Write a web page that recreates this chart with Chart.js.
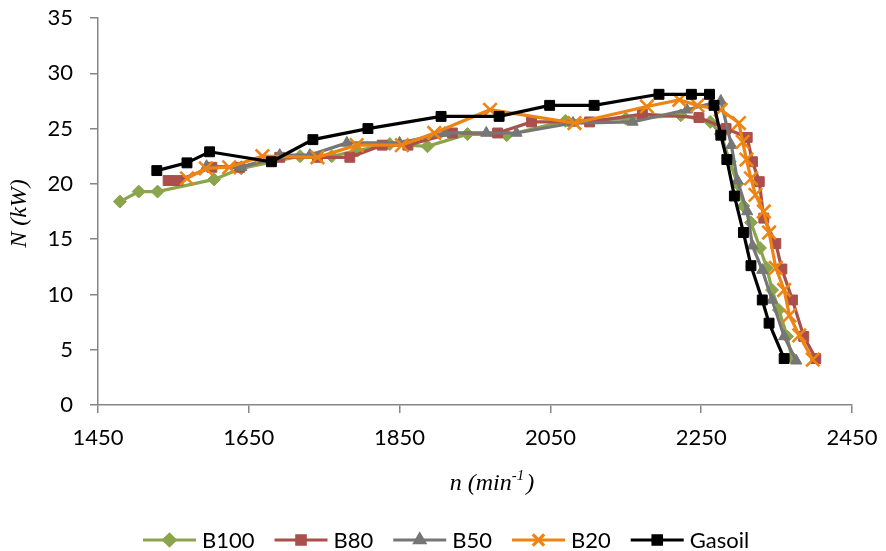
<!DOCTYPE html>
<html>
<head>
<meta charset="utf-8">
<script src="https://cdn.jsdelivr.net/npm/chart.js@4/dist/chart.umd.min.js"></script>
<style>
  html, body { margin: 0; padding: 0; background: #ffffff; }
  #wrap { width: 886px; height: 551px; }
</style>
</head>
<body>
<div id="wrap"><canvas id="c" width="886" height="551"></canvas></div>
<script>
// Axis ticks
const xTicks = [1450, 1650, 1850, 2050, 2250, 2450];
const yTicks = [0, 5, 10, 15, 20, 25, 30, 35];

// Series names
const seriesNames = ['B100', 'B80', 'B50', 'B20', 'Gasoil'];

// Engine speed n (min-1) and power N (kW) per fuel
const b100Rpm   = [1479, 1504, 1529, 1604, 1640, 1718, 1760, 1794, 1837, 1887, 1940, 1992, 2070, 2150, 2223, 2262, 2276, 2288, 2298, 2306, 2316, 2328, 2337, 2344, 2353, 2364, 2370];
const b100Power = [18.4, 19.3, 19.3, 20.4, 21.4, 22.5, 22.5, 23.0, 23.6, 23.4, 24.5, 24.4, 25.7, 25.9, 26.2, 25.6, 24.5, 22.0, 20.0, 18.0, 16.5, 14.2, 12.4, 10.4, 8.6, 6.2, 4.3];

const b80Rpm   = [1543, 1556, 1601, 1638, 1691, 1741, 1784, 1827, 1861, 1920, 1980, 2025, 2102, 2172, 2247, 2283, 2311, 2318, 2327, 2333, 2349, 2357, 2371, 2386, 2402];
const b80Power = [20.3, 20.3, 21.5, 21.5, 22.4, 22.4, 22.4, 23.5, 23.5, 24.6, 24.6, 25.6, 25.6, 26.3, 26.0, 25.0, 24.2, 22.0, 20.2, 16.9, 14.6, 12.3, 9.5, 6.2, 4.2];

const b50Rpm   = [1594, 1640, 1691, 1731, 1780, 1850, 1910, 1965, 2005, 2080, 2159, 2231, 2276, 2290, 2298, 2311, 2318, 2331, 2344, 2360, 2376];
const b50Power = [21.6, 21.5, 22.6, 22.6, 23.7, 23.7, 24.6, 24.6, 24.6, 25.5, 25.6, 26.7, 27.5, 23.5, 20.3, 17.5, 14.4, 12.2, 9.5, 6.2, 4.0];

const b20Rpm   = [1568, 1593, 1624, 1668, 1741, 1793, 1853, 1896, 1970, 2082, 2178, 2221, 2245, 2276, 2300, 2305, 2310, 2316, 2322, 2333, 2340, 2349, 2360, 2367, 2380, 2398];
const b20Power = [20.5, 21.4, 21.5, 22.5, 22.4, 23.5, 23.5, 24.6, 26.7, 25.5, 27.0, 27.6, 27.1, 26.7, 25.5, 23.8, 22.2, 20.5, 19.0, 17.5, 15.6, 12.4, 10.4, 8.1, 6.3, 4.1];

const gasoilRpm   = [1528, 1568, 1598, 1680, 1735, 1808, 1905, 1982, 2049, 2108, 2194, 2237, 2261, 2267, 2276, 2284, 2294, 2306, 2316, 2331, 2340, 2360];
const gasoilPower = [21.2, 21.9, 22.9, 22.0, 24.0, 25.0, 26.1, 26.1, 27.1, 27.1, 28.1, 28.1, 28.1, 27.1, 24.4, 22.2, 18.9, 15.6, 12.6, 9.5, 7.4, 4.2];

const AXIS_GRAY = '#868686';
const TICK_FONT = { family: 'Lato', size: 22 };
const TITLE_FONT = 'italic 24px "Liberation Serif"';

function pairs(xs, ys) {
  return xs.map((x, i) => ({ x: x, y: ys[i] }));
}

function series(label, xs, ys, color, style, radius, order, borderW) {
  return {
    label: label,
    data: pairs(xs, ys),
    showLine: true,
    borderColor: color,
    backgroundColor: color,
    borderWidth: 3.2,
    pointStyle: style,
    pointRadius: radius,
    pointHoverRadius: radius,
    pointBorderWidth: borderW,
    pointBorderColor: color,
    pointBackgroundColor: color,
    tension: 0,
    order: order
  };
}

const datasets = [
  series(seriesNames[0], b100Rpm, b100Power, '#8AA54B', 'rectRot', 6.5, 4, 1),
  series(seriesNames[1], b80Rpm, b80Power, '#AA4F4C', 'rect', 7, 3, 1),
  series(seriesNames[2], b50Rpm, b50Power, '#767676', 'triangle', 6.5, 2, 1),
  series(seriesNames[3], b20Rpm, b20Power, '#EE8412', 'crossRot', 9.5, 1, 2.6),
  series(seriesNames[4], gasoilRpm, gasoilPower, '#000000', 'rect', 7, 0, 1)
];

// Axis titles and line-with-marker legend drawn on the canvas
const decorations = {
  id: 'decorations',
  afterDraw(chart) {
    const ctx = chart.ctx;
    const area = chart.chartArea;
    ctx.save();

    // y-axis title, rotated
    ctx.fillStyle = '#000';
    ctx.font = TITLE_FONT;
    ctx.textAlign = 'center';
    ctx.textBaseline = 'middle';
    ctx.translate(20, (area.top + area.bottom) / 2 + 2);
    ctx.rotate(-Math.PI / 2);
    ctx.fillText('N (kW)', 0, 0);
    ctx.setTransform(1, 0, 0, 1, 0, 0);

    // x-axis title with superscript
    const base = 'n (min';
    const sup = '-1';
    const close = ')';
    ctx.textAlign = 'left';
    ctx.textBaseline = 'alphabetic';
    ctx.font = TITLE_FONT;
    const wBase = ctx.measureText(base).width;
    const wClose = ctx.measureText(close).width;
    ctx.font = 'italic 15px "Liberation Serif"';
    const wSup = ctx.measureText(sup).width;
    const total = wBase + wSup + 2 + wClose;
    let tx = 492 - total / 2;
    const ty = 490;
    ctx.font = TITLE_FONT;
    ctx.fillText(base, tx, ty);
    tx += wBase;
    ctx.font = 'italic 15px "Liberation Serif"';
    ctx.fillText(sup, tx, ty - 10);
    tx += wSup + 2;
    ctx.font = TITLE_FONT;
    ctx.fillText(close, tx, ty);

    // legend
    const ly = 540;
    const lineLen = 53;
    const gapText = 6;
    const gapItem = 20;
    ctx.font = '22px Lato';
    ctx.textBaseline = 'middle';
    let lx = 143;
    chart.data.datasets.forEach((ds) => {
      ctx.strokeStyle = ds.borderColor;
      ctx.lineWidth = 3.2;
      ctx.beginPath();
      ctx.moveTo(lx, ly);
      ctx.lineTo(lx + lineLen, ly);
      ctx.stroke();
      Chart.helpers.drawPoint(ctx, {
        pointStyle: ds.pointStyle,
        radius: ds.pointRadius * 0.85,
        borderWidth: ds.pointBorderWidth,
        rotation: 0
      }, lx + lineLen / 2, ly);
      ctx.fillStyle = ds.borderColor;
      ctx.fill();
      ctx.fillStyle = '#000';
      ctx.fillText(ds.label, lx + lineLen + gapText, ly + 1);
      lx += lineLen + gapText + ctx.measureText(ds.label).width + gapItem;
    });
    ctx.restore();
  }
};

new Chart(document.getElementById('c'), {
  type: 'scatter',
  data: { datasets: datasets },
  options: {
    responsive: false,
    devicePixelRatio: 1,
    animation: false,
    layout: { padding: { left: 0, right: 34, top: 18, bottom: 0 } },
    plugins: {
      legend: { display: false },
      tooltip: { enabled: false },
      title: { display: false }
    },
    scales: {
      x: {
        type: 'linear',
        min: xTicks[0],
        max: xTicks[xTicks.length - 1],
        afterBuildTicks(scale) { scale.ticks = xTicks.map(v => ({ value: v })); },
        afterFit(scale) {
          scale.height = 146;
          scale.paddingLeft = 0;
          scale.paddingRight = 0;
        },
        ticks: { font: TICK_FONT, color: '#000', padding: 12, maxRotation: 0, autoSkip: false, callback: (v) => String(v) },
        grid: { drawOnChartArea: false, drawTicks: true, tickLength: 8, color: AXIS_GRAY, lineWidth: 1.5 },
        border: { display: true, color: AXIS_GRAY, width: 1.5 }
      },
      y: {
        type: 'linear',
        min: yTicks[0],
        max: yTicks[yTicks.length - 1],
        afterBuildTicks(scale) { scale.ticks = yTicks.map(v => ({ value: v })); },
        afterFit(scale) {
          scale.width = 98;
          scale.paddingTop = 0;
          scale.paddingBottom = 0;
        },
        ticks: { font: TICK_FONT, color: '#000', padding: 17, autoSkip: false, callback: (v) => String(v) },
        grid: { drawOnChartArea: false, drawTicks: true, tickLength: 8, color: AXIS_GRAY, lineWidth: 1.5 },
        border: { display: true, color: AXIS_GRAY, width: 1.5 }
      }
    }
  },
  plugins: [decorations]
});
</script>
</body>
</html>
